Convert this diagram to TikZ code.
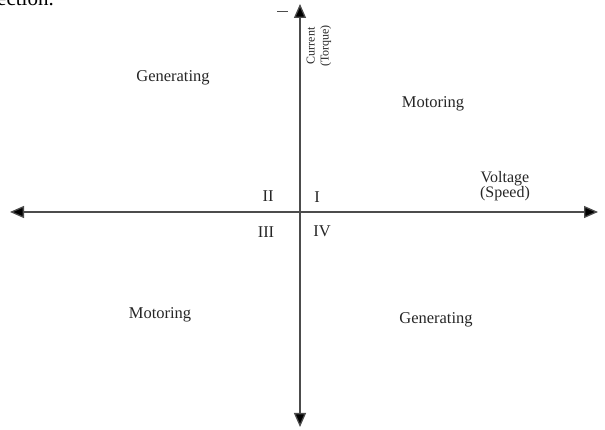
\documentclass[tikz,border=0pt]{standalone}
\usepackage{fontspec}
\setmainfont{Liberation Serif}
\usetikzlibrary{arrows.meta,positioning}

\begin{document}
\begin{tikzpicture}[
    x=1pt, y=1pt,
    axis/.style={draw=black!70, line width=1.3pt, -{Triangle[length=14pt,width=12pt,fill=black]}},
    label/.style={font=\fontsize{16.5}{18}\selectfont, inner sep=0pt, text=black!85},
    quad/.style={font=\fontsize{16.5}{18}\selectfont, inner sep=0pt, text=black!85}
]
    \useasboundingbox (0,0) rectangle (605,430);
    % page text cut off above the figure
    \node[anchor=base east, inner sep=0pt, font=\fontsize{21}{24}\selectfont] (cut) at (54,424) {ection.};
    \draw[black!70, line width=1pt] (277,418) -- (288,418);

    \coordinate (O) at (300,218);
    \coordinate (left) at (10,218);
    \coordinate (right) at (598,218);
    \coordinate (top) at (300,426);
    \coordinate (bottom) at (300,3);

    \draw[axis] (O) -- (right);
    \draw[axis] (O) -- (left);
    \draw[axis] (O) -- (top);
    \draw[axis] (O) -- (bottom);

    \node[label, rotate=90, align=center, font=\fontsize{12}{14}\selectfont] (current) at (319,384) {Current\\(Torque)};
    \node[label, align=center, font=\fontsize{16}{15}\selectfont] (voltage) at (505,244) {Voltage\\(Speed)};

    \node[label] (gen1) at (173,352) {Generating};
    \node[label] (mot1) at (433,326) {Motoring};
    \node[label] (mot3) at (160,115) {Motoring};
    \node[label] (gen4) at (436,110) {Generating};

    \node[quad] (q2) at (268,234) {II};
    \node[quad] (q1) at (317,233) {I};
    \node[quad] (q3) at (266,198) {III};
    \node[quad] (q4) at (322,199) {IV};
\end{tikzpicture}
\end{document}
